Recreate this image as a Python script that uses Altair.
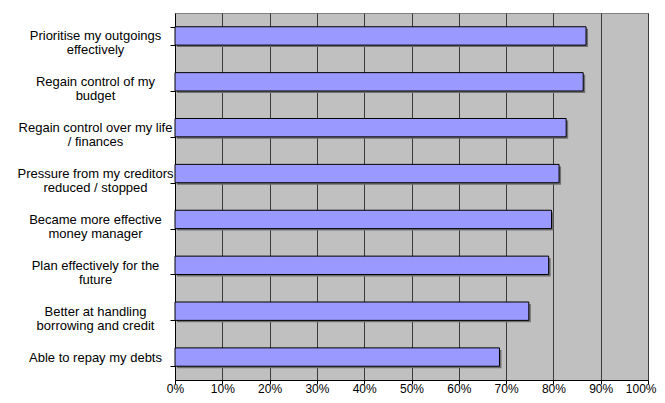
import altair as alt
import pandas as pd

categories = [
    "Prioritise my outgoings\neffectively",
    "Regain control of my\nbudget",
    "Regain control over my life\n/ finances",
    "Pressure from my creditors\nreduced / stopped",
    "Became more effective\nmoney manager",
    "Plan effectively for the\nfuture",
    "Better at handling\nborrowing and credit",
    "Able to repay my debts",
]
values = [0.869, 0.863, 0.827, 0.812, 0.796, 0.790, 0.748, 0.686]
tick_values = [0, 0.1, 0.2, 0.3, 0.4, 0.5, 0.6, 0.7, 0.8, 0.9, 1.0]

df = pd.DataFrame({"category": categories, "value": values})

font = "Liberation Sans"

x_enc = alt.X(
    "value:Q",
    scale=alt.Scale(domain=[0, 1], nice=False),
    axis=alt.Axis(
        values=tick_values,
        format=".0%",
        title=None,
        grid=True,
        gridColor="#3a3a3a",
        gridWidth=1,
        gridOpacity=1,
        domainColor="#000000",
        tickColor="#000000",
        tickSize=4,
        labelFont=font,
        labelFontSize=12,
        labelColor="#000000",
        labelBaseline="alphabetic",
        labelPadding=8,
        labelFlush=False,
        labelAlign={"condition": {"test": "datum.value >= 1", "value": "right"}, "value": "center"},
        labelOffset={"condition": {"test": "datum.value >= 1", "value": 8}, "value": 0},
    ),
)

y_enc = alt.Y(
    "category:N",
    sort=categories,
    scale=alt.Scale(paddingInner=0.6, paddingOuter=0.3),
    axis=alt.Axis(
        title=None,
        labelExpr="split(datum.label, '\\n')",
        labelAlign="center",
        labelPadding=75,
        labelFont=font,
        labelFontSize=13,
        labelLineHeight=14,
        labelColor="#000000",
        labelLimit=0,
        domainColor="#000000",
        tickColor="#000000",
        tickSize=5,
        tickBand="extent",
        grid=False,
    ),
)

base = alt.Chart(df)

shadow = base.mark_bar(color="#6f6f6f", xOffset=2, x2Offset=2, yOffset=2, y2Offset=2).encode(
    x=x_enc, y=y_enc
)
bars = base.mark_bar(color="#9999FF", stroke="#000000", strokeWidth=1).encode(
    x=x_enc, y=y_enc
)

chart = (
    alt.layer(shadow, bars)
    .properties(
        width=473,
        height=367,
        autosize=alt.AutoSizeParams(type="none"),
        padding={"left": 167, "top": 5, "right": 9, "bottom": 15},
    )
    .configure_view(fill="#C0C0C0", stroke="#808080", strokeWidth=1)
)

chart.save("out.html", embed_options={"renderer": "svg", "actions": False})
